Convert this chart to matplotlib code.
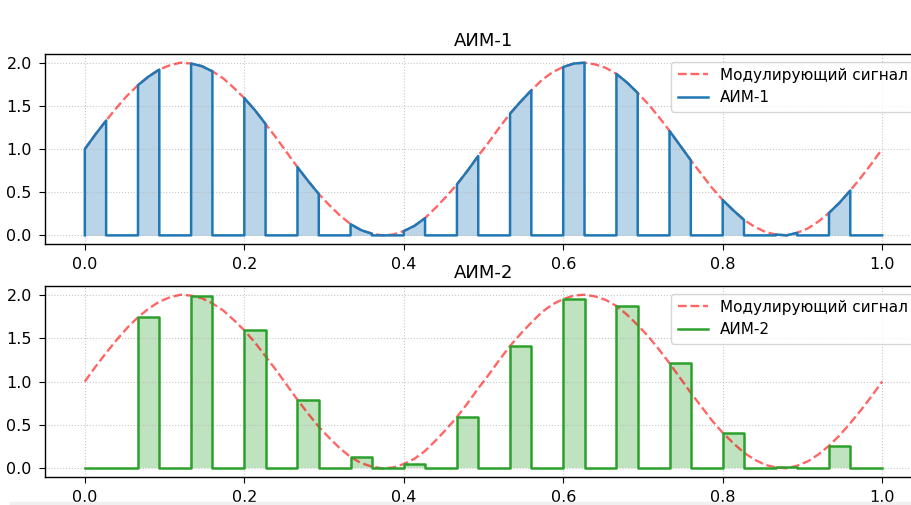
import numpy as np
import matplotlib
matplotlib.use("Agg")
import matplotlib.pyplot as plt
from matplotlib.patches import Rectangle

# modulating signal, read at t = k/75, k = 0..75
t_sig = [k / 75 for k in range(76)]
mod_sig = [1.00, 1.17, 1.33, 1.48, 1.62, 1.74, 1.84, 1.92, 1.97, 2.00,
           1.99, 1.96, 1.90, 1.82, 1.71, 1.59, 1.45, 1.29, 1.13, 0.96,
           0.79, 0.63, 0.48, 0.35, 0.23, 0.13, 0.06, 0.02, 0.00, 0.01,
           0.05, 0.11, 0.20, 0.32, 0.45, 0.59, 0.75, 0.92, 1.08, 1.25,
           1.41, 1.55, 1.68, 1.80, 1.89, 1.95, 1.99, 2.00, 1.98, 1.94,
           1.87, 1.77, 1.65, 1.52, 1.37, 1.21, 1.04, 0.87, 0.71, 0.55,
           0.41, 0.29, 0.18, 0.10, 0.04, 0.01, 0.00, 0.03, 0.08, 0.16,
           0.26, 0.38, 0.52, 0.67, 0.83, 1.00]

# pulses: start times, width
pulse_start = [0.0, 0.0667, 0.1333, 0.2, 0.2667, 0.3333, 0.4, 0.4667,
               0.5333, 0.6, 0.6667, 0.7333, 0.8, 0.8667, 0.9333]
pulse_w = 0.0267

# AIM-1: signal value at start, middle, end of each pulse
aim1_tops = [[1.00, 1.17, 1.33], [1.74, 1.84, 1.92], [1.99, 1.96, 1.90],
             [1.59, 1.45, 1.29], [0.79, 0.63, 0.48], [0.13, 0.06, 0.02],
             [0.05, 0.11, 0.20], [0.59, 0.75, 0.92], [1.41, 1.55, 1.68],
             [1.95, 1.99, 2.00], [1.87, 1.77, 1.65], [1.21, 1.04, 0.87],
             [0.41, 0.29, 0.18], [0.01, 0.00, 0.03], [0.26, 0.38, 0.52]]

# AIM-2: flat-top heights
aim2_h = [0.0, 1.74, 1.99, 1.59, 0.79, 0.13, 0.05, 0.59, 1.41, 1.95,
          1.87, 1.21, 0.41, 0.01, 0.26]

# build outlines
x1, y1 = [], []
for s, tops in zip(pulse_start, aim1_tops):
    x1 += [s, s, s + pulse_w / 2, s + pulse_w, s + pulse_w]
    y1 += [0, tops[0], tops[1], tops[2], 0]
x1.append(1.0); y1.append(0)

x2, y2 = [], []
for s, h in zip(pulse_start, aim2_h):
    x2 += [s, s, s + pulse_w, s + pulse_w]
    y2 += [0, h, h, 0]
x2.append(1.0); y2.append(0)

fig = plt.figure(figsize=(9.12, 5.05), dpi=100)
ax1 = fig.add_axes([0.0493, 0.5168, 0.9617, 0.3762])
ax2 = fig.add_axes([0.0493, 0.0554, 0.9617, 0.3782])

for ax, x, y, col, name in [(ax1, x1, y1, 'tab:blue', 'АИМ-1'),
                            (ax2, x2, y2, 'tab:green', 'АИМ-2')]:
    ax.plot(t_sig, mod_sig, 'r--', alpha=0.6, lw=1.7, label='Модулирующий сигнал')
    ax.plot(x, y, color=col, lw=1.8, label=name)
    ax.fill_between(x, y, 0, color=col, alpha=0.3, lw=0)
    ax.set_title(name, fontsize=13)
    ax.grid(True, linestyle=':', alpha=0.7)
    ax.set_yticks([0.0, 0.5, 1.0, 1.5, 2.0])
    ax.set_xticks([0.0, 0.2, 0.4, 0.6, 0.8, 1.0])
    ax.tick_params(labelsize=11.5, length=4.5, pad=5)
    for sp in ax.spines.values():
        sp.set_linewidth(1.0)
    ax.legend(loc='upper right', fontsize=11)

# window toolbar strip at the bottom of the screenshot
fig.patches.append(Rectangle((10 / 912, 0), 1, 3 / 505, transform=fig.transFigure,
                             color='#f0f0f0', zorder=10))

fig.savefig('out.png', dpi=100)
